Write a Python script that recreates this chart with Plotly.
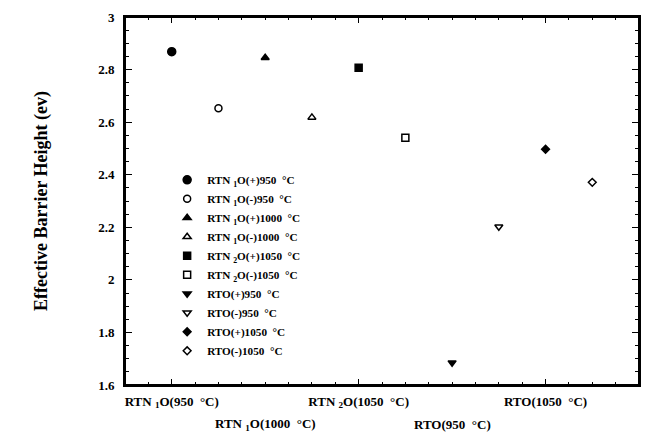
import plotly.graph_objects as go

# Samples: oxide type, polarity and anneal temperature
series_names = [
    "RTN <sub>1</sub>O(+)950  °C",
    "RTN <sub>1</sub>O(-)950  °C",
    "RTN <sub>1</sub>O(+)1000  °C",
    "RTN <sub>1</sub>O(-)1000  °C",
    "RTN <sub>2</sub>O(+)1050  °C",
    "RTN <sub>2</sub>O(-)1050  °C",
    "RTO(+)950  °C",
    "RTO(-)950  °C",
    "RTO(+)1050  °C",
    "RTO(-)1050  °C",
]
positions = [1, 2, 3, 4, 5, 6, 7, 8, 9, 10]
barrier_height = [2.868, 2.653, 2.845, 2.618, 2.807, 2.541, 1.685, 2.202, 2.497, 2.371]
symbols = [
    "circle", "circle-open", "triangle-up", "triangle-up-open", "square",
    "square-open", "triangle-down", "triangle-down-open", "diamond", "diamond-open",
]
sizes = [8, 7, 7, 7, 7, 7, 7, 7, 6, 6]

# Group labels on the x axis (two staggered rows)
row1_vals = [1, 5, 9]
row1_text = ["RTN <sub>1</sub>O(950  °C)", "RTN <sub>2</sub>O(1050  °C)", "RTO(1050  °C)"]
row2_vals = [3, 7]
row2_text = ["RTN <sub>1</sub>O(1000  °C)", "RTO(950  °C)"]

FONT = "Liberation Serif"

fig = go.Figure()
for name, xv, yv, sym, sz in zip(series_names, positions, barrier_height, symbols, sizes):
    fig.add_trace(go.Scatter(
        x=[xv], y=[yv], mode="markers", name=name,
        marker=dict(symbol=sym, size=sz, color="black", line=dict(color="black", width=1.5)),
    ))

# second, lower row of group labels
for xv, txt in zip(row2_vals, row2_text):
    fig.add_annotation(
        x=xv, xref="x", y=0, yref="paper", yanchor="middle", yshift=-39,
        text=txt, showarrow=False,
        font=dict(family=FONT, size=13, color="black", weight="bold"),
    )

# frame around the plotting area
fig.add_shape(type="rect", xref="paper", yref="paper", x0=0, y0=0, x1=1, y1=1,
              line=dict(color="black", width=2), fillcolor="rgba(0,0,0,0)", layer="above")

fig.update_layout(
    width=647, height=433,
    margin=dict(l=125, r=6, t=17, b=48),
    plot_bgcolor="white", paper_bgcolor="white",
    font=dict(family=FONT, color="black", size=12),
    showlegend=True,
    legend=dict(
        x=0.082, y=0.597, xanchor="left", yanchor="top",
        bgcolor="rgba(0,0,0,0)", borderwidth=0,
        font=dict(family=FONT, size=11.2, color="black", weight="bold"),
        tracegroupgap=0, itemwidth=30,
    ),
    xaxis=dict(
        range=[0, 11], showgrid=False, zeroline=False,
        showline=True, linecolor="black", linewidth=2, mirror="allticks",
        ticks="inside", ticklen=6, tickcolor="black", tickwidth=1,
        tickmode="array", tickvals=row1_vals, ticktext=row1_text,
        tickfont=dict(family=FONT, size=13, weight="bold"),
        ticklabelstandoff=3,
        minor=dict(tickmode="linear", tick0=0, dtick=0.5, ticks="inside", ticklen=3,
                   tickcolor="black", showgrid=False),
    ),
    yaxis=dict(
        range=[1.6, 3.0], showgrid=False, zeroline=False,
        showline=True, linecolor="black", linewidth=2, mirror="allticks",
        ticks="inside", ticklen=7, tickcolor="black", tickwidth=1,
        dtick=0.2, tick0=1.6,
        tickfont=dict(family=FONT, size=13, weight="bold"),
        ticklabelstandoff=6,
        minor=dict(dtick=0.05, ticks="inside", ticklen=4, tickcolor="black", showgrid=False),
        title=dict(text="Effective Barrier Height (ev)",
                   font=dict(family=FONT, size=18, weight="bold"), standoff=46),
    ),
)

fig.write_html("out.html")
